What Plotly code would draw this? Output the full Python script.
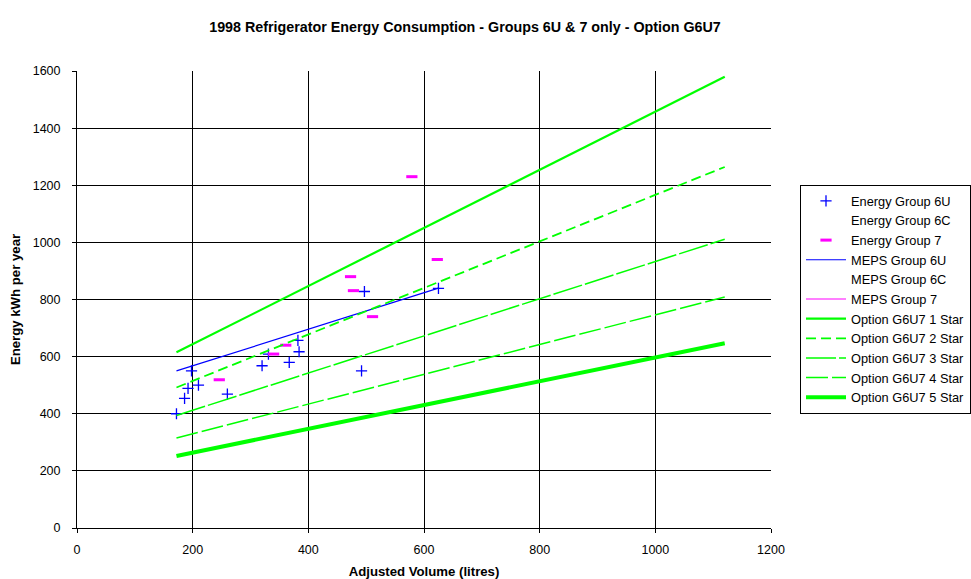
import plotly.graph_objects as go

# Energy Group 6U data points (Adjusted volume litres, kWh/year)
g6u_volume = [172, 186, 192, 198, 210, 260, 320, 331, 367, 382, 384, 492, 497, 625]
g6u_energy = [400, 454, 489, 550, 500, 469, 568, 609, 580, 657, 617, 550, 828, 839]

# Energy Group 7 data points
g7_volume = [246, 340, 361, 473, 478, 511, 579, 623]
g7_energy = [519, 609, 640, 880, 831, 740, 1230, 940]

# MEPS Group 6U line
meps6u_volume = [172, 625]
meps6u_energy = [550, 840]

# Option G6U7 star lines
star_volume = [172, 1120]
star1 = [615, 1580]
star2 = [492, 1264]
star3 = [394, 1011]
star4 = [315, 809]
star5 = [252, 647]

x_ticks = [0, 200, 400, 600, 800, 1000, 1200]
y_ticks = [0, 200, 400, 600, 800, 1000, 1200, 1400, 1600]

GREEN = "#00FF00"
fig = go.Figure()

fig.add_trace(go.Scatter(x=g6u_volume, y=g6u_energy, mode="markers", name="Energy Group 6U",
                         marker=dict(symbol="cross-thin", size=8, line=dict(color="#0000FF", width=1.3), color="#0000FF")))
fig.add_trace(go.Scatter(x=[None], y=[None], mode="markers", name="Energy Group 6C",
                         marker=dict(size=1, color="rgba(0,0,0,0)")))
fig.add_trace(go.Scatter(x=g7_volume, y=g7_energy, mode="markers", name="Energy Group 7",
                         marker=dict(symbol="line-ew", size=8, line=dict(color="#FF00FF", width=3), color="#FF00FF")))
fig.add_trace(go.Scatter(x=meps6u_volume, y=meps6u_energy, mode="lines", name="MEPS Group 6U",
                         line=dict(color="#0000FF", width=1.2)))
fig.add_trace(go.Scatter(x=[None], y=[None], mode="markers", name="MEPS Group 6C",
                         marker=dict(size=1, color="rgba(0,0,0,0)")))
fig.add_trace(go.Scatter(x=[None, None], y=[None, None], mode="lines", name="MEPS Group 7",
                         line=dict(color="#FF00FF", width=1.2)))
fig.add_trace(go.Scatter(x=star_volume, y=star1, mode="lines", name="Option G6U7 1 Star",
                         line=dict(color=GREEN, width=2.2)))
fig.add_trace(go.Scatter(x=star_volume, y=star2, mode="lines", name="Option G6U7 2 Star",
                         line=dict(color=GREEN, width=1.8, dash="10px,5px")))
fig.add_trace(go.Scatter(x=star_volume, y=star3, mode="lines", name="Option G6U7 3 Star",
                         line=dict(color=GREEN, width=1.5, dash="30px,3px")))
fig.add_trace(go.Scatter(x=star_volume, y=star4, mode="lines", name="Option G6U7 4 Star",
                         line=dict(color=GREEN, width=1.5, dash="22px,4px")))
fig.add_trace(go.Scatter(x=star_volume, y=star5, mode="lines", name="Option G6U7 5 Star",
                         line=dict(color=GREEN, width=4)))

fig.update_layout(
    width=971, height=579,
    paper_bgcolor="white", plot_bgcolor="white",
    font=dict(family="Arial, Liberation Sans, sans-serif", size=12, color="black"),
    title=dict(text="<b>1998 Refrigerator Energy Consumption - Groups 6U & 7 only - Option G6U7</b>",
               x=465/971, xanchor="center", y=1 - 27/579, yanchor="middle", font=dict(size=14.3)),
    margin=dict(l=77, r=200, t=71, b=51, autoexpand=False),
    legend=dict(x=(800 - 77) / 694, xanchor="left", y=(528 - 185) / 457, yanchor="top",
                bordercolor="black", borderwidth=1, bgcolor="white",
                font=dict(size=12.8), itemwidth=40, tracegroupgap=0),
    showlegend=True,
)
fig.update_xaxes(range=[0, 1200], tickvals=x_ticks, showgrid=True, gridcolor="#000000", gridwidth=1,
                 showline=True, linecolor="#000000", linewidth=1, mirror=False, automargin=False,
                 ticks="outside", ticklen=4, tickcolor="black", zeroline=False,
                 tickfont=dict(size=12.5), ticklabelstandoff=6,
                 title=dict(text="<b>Adjusted Volume (litres)</b>", font=dict(size=13.2), standoff=14))
fig.update_yaxes(range=[0, 1600], tickvals=y_ticks, showgrid=True, gridcolor="#000000", gridwidth=1,
                 showline=True, linecolor="#000000", linewidth=1, automargin=False,
                 ticks="outside", ticklen=4, tickcolor="black", zeroline=False,
                 tickfont=dict(size=12.5), ticklabelstandoff=9,
                 title=dict(text="<b>Energy kWh per year</b>", font=dict(size=13.2), standoff=9))

fig.write_html("out.html", config={"displayModeBar": False},
               post_script="document.body.style.margin='0';")
